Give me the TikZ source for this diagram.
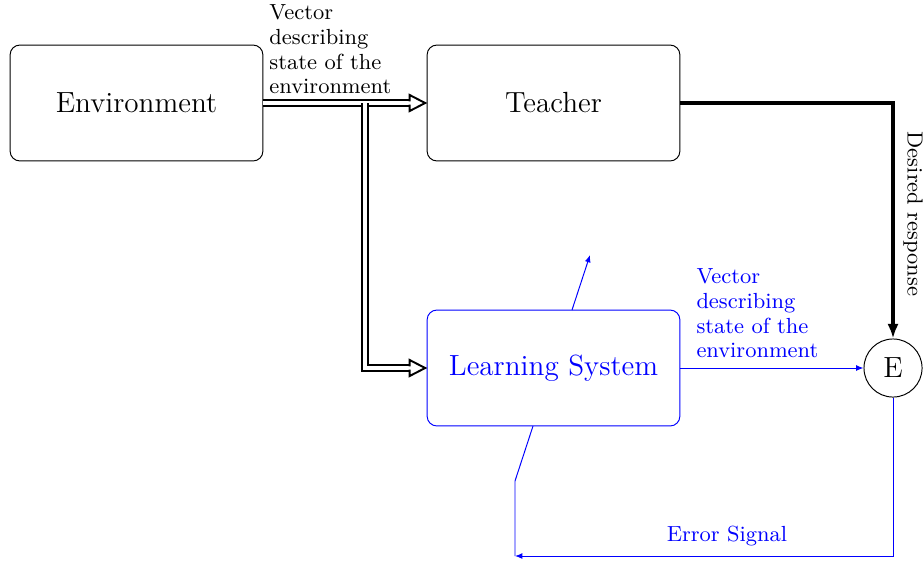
\documentclass[tikz,border=0pt]{standalone}
\usetikzlibrary{arrows.meta,calc}
\begin{document}
\begin{tikzpicture}[x=0.4115pt, y=-0.4115pt,
  block/.style={draw, rounded corners=4pt, minimum width=104pt, minimum height=47.7pt, font=\large, inner sep=0pt},
  junction/.style={draw, circle, minimum size=23.9pt, inner sep=0pt, font=\large},
  label/.style={font=\fontsize{9pt}{10.2pt}\selectfont, align=left, inner sep=0pt},
  signal/.style={double, line width=0.8pt, double distance=1.4pt, shorten >=6.4pt},
  thin arrow/.style={-{Latex[length=3pt,width=2.4pt]}},
  hollow head/.pic={
    \fill[white] (-15.5,-8) -- (0,0) -- (-15.5,8) -- cycle;
    \draw[line width=0.8pt, line join=miter]
      (-15.5,-1.7) -- (-15.5,-8) -- (0,0) -- (-15.5,8) -- (-15.5,1.7);
  }
]
\useasboundingbox (0,0) rectangle (924,563);

% blocks
\node[block] (env) at (136.5,103) {Environment};
\node[block] (teacher) at (553.5,103) {Teacher};
\node[block, draw=blue, text=blue] (ls) at (553.5,368) {Learning System};
\node[junction] (E) at (893,368) {E};

% state vector fed to teacher and learning system
\draw[signal] (env.east) -- (teacher.west);
\pic at ($(teacher.west)+(-1.5,0)$) {hollow head};
\coordinate (split) at (365,103);
\coordinate (bend) at (365,368);
\draw[signal] (split) -- (bend) -- (ls.west);
\pic at ($(ls.west)+(-1.5,0)$) {hollow head};
\node[label, anchor=north west] (lblA) at (269,4) {Vector\\describing\\state of the\\environment};

% desired response
\coordinate (tcorner) at (893,103);
\draw[line width=1.6pt, -{Latex[length=6pt,width=4.6pt]}] (teacher.east) -- (tcorner) -- (E.north);
\node[font=\fontsize{9pt}{10.2pt}\selectfont, rotate=-90, inner sep=0pt] (dr) at (913,214) {Desired response};

% learning system output
\draw[blue, thin arrow] (ls.east) -- (E.west);
\node[label, text=blue, anchor=north west] (lblB) at (696,268) {Vector\\describing\\state of the\\environment};

\coordinate (up0) at (572,310);
\coordinate (up1) at (590,255);
\draw[blue, thin arrow] (up0) -- (up1);

% error feedback
\coordinate (fb0) at (533,426);
\coordinate (fb1) at (515,481);
\coordinate (ecorner) at (515,556);
\draw[blue] (fb0) -- (fb1) -- (ecorner);
\draw[blue, thin arrow] (E.south) |- (ecorner);
\node[font=\fontsize{9pt}{10.2pt}\selectfont, text=blue, inner sep=0pt] (err) at (727,536) {Error Signal};
\end{tikzpicture}
\end{document}
